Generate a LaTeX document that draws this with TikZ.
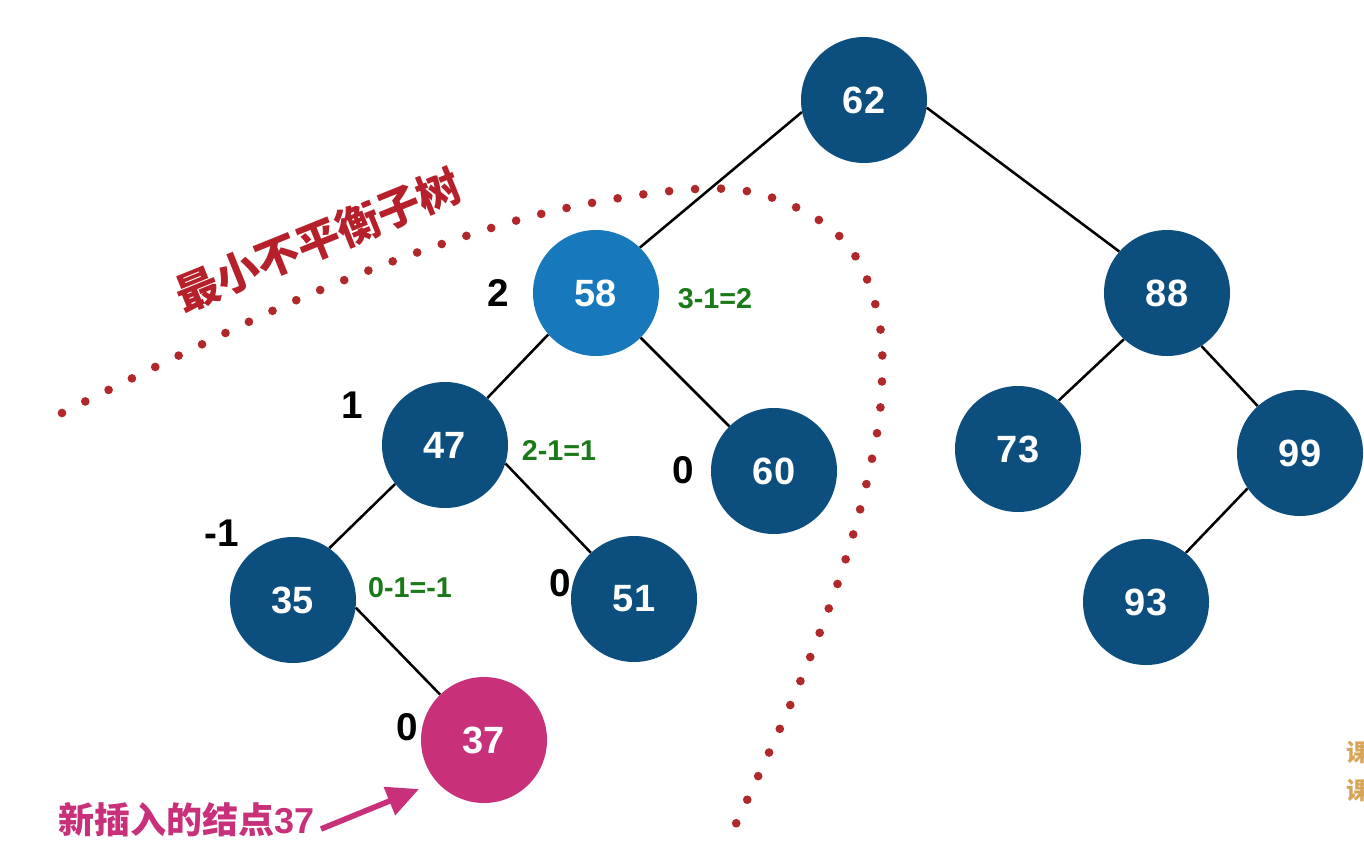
\documentclass[tikz,border=0pt]{standalone}
\usepackage{fontspec}
\setmainfont{Liberation Sans}
\newfontfamily\cjk{Noto Sans CJK SC}
\usetikzlibrary{arrows.meta}
\definecolor{darkblue}{HTML}{0C4F7E}
\definecolor{lightblue}{HTML}{1878BC}
\definecolor{magentanode}{HTML}{C8307A}
\definecolor{redtext}{HTML}{B5202A}
\definecolor{dotred}{HTML}{B0282A}
\definecolor{greentext}{HTML}{1A7A1A}
\definecolor{orangetext}{HTML}{D8A458}
\tikzset{
  treenode/.style={circle, fill=darkblue, minimum size=94.5pt, inner sep=0pt, text=white, font=\fontsize{28.5}{30}\selectfont\bfseries},
  edge/.style={draw=black, line width=1.9pt},
  bal/.style={font=\fontsize{29}{30}\selectfont\bfseries, text=black},
  calc/.style={font=\fontsize{21.5}{23}\selectfont\bfseries, text=greentext},
}
\begin{document}
\begin{tikzpicture}[x=0.75pt,y=-0.75pt]
\useasboundingbox (0,0) rectangle (1364,850);
\clip (0,0) rectangle (1364,850);
\fill[white] (0,0) rectangle (1364,850);

% dotted boundary of the minimal unbalanced subtree
\draw[dotred, line width=6.5pt, line cap=round, dash pattern=on 0pt off 19.5pt]
  plot[smooth, tension=0.6] coordinates {(62,413) (184,353) (306,296) (433,247) (562,209) (696,189) (776,199) (845,242) (878,315) (881,400) (868,477) (847,555) (820,632) (789,708) (755,783) (733,830)};

% nodes
\node[treenode] (n62) at (864,100) {62};
\node[treenode, fill=lightblue] (n58) at (596,293) {58};
\node[treenode] (n88) at (1167,293) {88};
\node[treenode] (n47) at (445,445) {47};
\node[treenode] (n60) at (774,471) {60};
\node[treenode] (n73) at (1018,449) {73};
\node[treenode] (n99) at (1300,453) {99};
\node[treenode] (n35) at (293,600) {35};
\node[treenode] (n51) at (634,599) {51};
\node[treenode] (n93) at (1146,602) {93};
\node[treenode, fill=magentanode] (n37) at (484,740) {37};

% edges
\draw[edge] (n62.191) -- (n58.46);
\draw[edge] (n62.-7) -- (n88.139);
\draw[edge] (n58.221) -- (n47.48);
\draw[edge] (n58.-45) -- (n60.135);
\draw[edge] (n47.218) -- (n35.55);
\draw[edge] (n47.-17) -- (n51.133);
\draw[edge] (n35.-7) -- (n37.134);
\draw[edge] (n88.227) -- (n73.50);
\draw[edge] (n88.-57) -- (n99.132);
\draw[edge] (n99.214) -- (n93.51);

% balance factors
\node[bal] (b58) at (498,293) {2};
\node[bal] (b47) at (352,405) {1};
\node[bal] (b60) at (683,470) {0};
\node[bal] (b35) at (222,533) {-1};
\node[bal] (b51) at (560,583) {0};
\node[bal] (b37) at (407,727) {0};

% calculations
\node[calc] (c58) at (715,299) {3-1=2};
\node[calc] (c47) at (559,450) {2-1=1};
\node[calc] (c35) at (410,588) {0-1=-1};

% title of subtree
\node[text=redtext, font=\cjk\fontsize{32.5}{34}\selectfont\bfseries, rotate=22, inner sep=0pt] (title) at (318,240) {最小不平衡子树};

% new node label and arrow
\node[text=magentanode, font=\fontsize{27}{29}\selectfont\bfseries, anchor=east, inner sep=0pt] (newlbl) at (315,820) {{\cjk 新插入的结点}37};
\coordinate (arrstart) at (321,829);
\coordinate (arrtip) at (419,789);
\draw[magentanode, line width=4.2pt, -{Triangle[length=24pt,width=22pt]}] (arrstart) -- (arrtip);

% clipped side text
\node[text=orangetext, font=\cjk\fontsize{18}{20}\selectfont\bfseries, anchor=west, inner sep=0pt] (side1) at (1346,752) {课};
\node[text=orangetext, font=\cjk\fontsize{18}{20}\selectfont\bfseries, anchor=west, inner sep=0pt] (side2) at (1346,790) {课};
\end{tikzpicture}
\end{document}
